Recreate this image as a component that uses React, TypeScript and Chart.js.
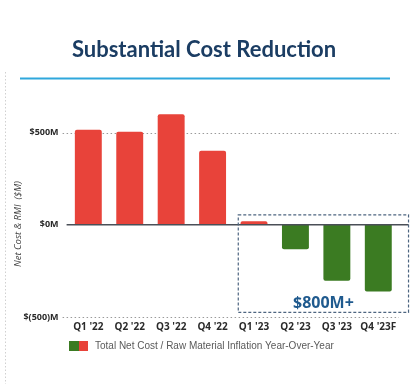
import React, { useEffect, useRef } from "react";
import { Chart, registerables } from "chart.js";

Chart.register(...registerables);

const categories = ["Q1 '22", "Q2 '22", "Q3 '22", "Q4 '22", "Q1 '23", "Q2 '23", "Q3 '23", "Q4 '23F"];
const values = [516, 505, 600, 402, 20, -132, -304, -362];
const yTicks = [-500, 0, 500];
const seriesLabel = "Total Net Cost / Raw Material Inflation Year-Over-Year";
const titleText = "Substantial Cost Reduction";
const calloutText = "$800M+";
const yTitle = "Net Cost & RMI  ($M)";

const RED = "#e8433a";
const GREEN = "#3b7b22";
const NAVY = "#1b3d63";

function fmt(v: number) {
  if (v < 0) return "$(" + Math.abs(v) + ")M";
  return "$" + v + "M";
}

const decorPlugin = {
  id: "decor",
  beforeDatasetsDraw(chart: any) {
    const ctx = chart.ctx;
    const y = chart.scales.y;
    const area = chart.chartArea;
    ctx.save();
    ctx.strokeStyle = "#9a9a9a";
    ctx.lineWidth = 1;
    ctx.setLineDash([1.5, 2.5]);
    for (const v of yTicks) {
      if (v === 0) continue;
      const py = Math.round(y.getPixelForValue(v)) + 0.5;
      ctx.beginPath();
      ctx.moveTo(area.left - 5, py);
      ctx.lineTo(area.right, py);
      ctx.stroke();
    }
    ctx.restore();
  },
  afterDatasetsDraw(chart: any) {
    const ctx = chart.ctx;
    const y = chart.scales.y;
    const x = chart.scales.x;
    const area = chart.chartArea;
    const step = x.getPixelForValue(1) - x.getPixelForValue(0);
    const rightEdge = x.getPixelForValue(categories.length - 1) + 0.73 * step;
    ctx.save();
    const z = y.getPixelForValue(0);
    ctx.strokeStyle = "#4a4f57";
    ctx.lineWidth = 1.5;
    ctx.beginPath();
    ctx.moveTo(area.left - 1, z);
    ctx.lineTo(rightEdge, z);
    ctx.stroke();

    const bl = x.getPixelForValue(4) - 0.38 * step;
    const bt = y.getPixelForValue(54);
    const bb = y.getPixelForValue(-475);
    ctx.strokeStyle = "#4d6580";
    ctx.lineWidth = 1.2;
    ctx.setLineDash([3, 2]);
    ctx.strokeRect(bl, bt, rightEdge - bl, bb - bt);
    ctx.setLineDash([]);
    ctx.fillStyle = "#1f5a8e";
    ctx.font = "bold 16px 'Open Sans'";
    ctx.textAlign = "center";
    ctx.textBaseline = "middle";
    ctx.fillText(calloutText, (bl + rightEdge) / 2, bb - 9);

    ctx.fillStyle = "#444";
    ctx.font = "italic 9.5px 'Open Sans'";
    ctx.translate(18, 224);
    ctx.rotate(-Math.PI / 2);
    ctx.fillText(yTitle, 0, 0);
    ctx.restore();
  },
  afterDraw(chart: any) {
    const ctx = chart.ctx;
    ctx.save();
    ctx.strokeStyle = "#d0d0d0";
    ctx.lineWidth = 1;
    ctx.setLineDash([1.5, 2]);
    ctx.beginPath();
    ctx.moveTo(5.5, 72);
    ctx.lineTo(5.5, 384);
    ctx.stroke();
    ctx.setLineDash([]);
    ctx.fillStyle = NAVY;
    ctx.font = "bold 22px Lato";
    ctx.textAlign = "center";
    ctx.textBaseline = "middle";
    ctx.fillText(titleText, 204, 50);
    ctx.strokeStyle = "#2fa7dc";
    ctx.lineWidth = 2.2;
    ctx.beginPath();
    ctx.moveTo(20, 78.5);
    ctx.lineTo(390, 78.5);
    ctx.stroke();
    const lx = 69, ly = 341;
    ctx.fillStyle = GREEN;
    ctx.fillRect(lx, ly, 10, 10);
    ctx.fillStyle = RED;
    ctx.fillRect(lx + 10, ly, 9, 10);
    ctx.fillStyle = "#5a5a5a";
    ctx.font = "10px 'Liberation Sans', Arial, sans-serif";
    ctx.textAlign = "left";
    ctx.textBaseline = "middle";
    ctx.fillText(seriesLabel, 95, ly + 5);
    ctx.restore();
  },
};

export default function App() {
  const ref = useRef<HTMLCanvasElement | null>(null);
  useEffect(() => {
    if (!ref.current) return;
    const chart = new Chart(ref.current, {
      type: "bar",
      data: {
        labels: categories,
        datasets: [
          {
            label: seriesLabel,
            data: values,
            backgroundColor: values.map((v) => (v >= 0 ? RED : GREEN)),
            borderRadius: 2,
            borderSkipped: "start",
            barPercentage: 0.65,
            categoryPercentage: 1,
          },
        ],
      },
      options: {
        responsive: false,
        animation: false,
        layout: { padding: { top: 105, right: 17, bottom: 47, left: 0 } },
        plugins: { legend: { display: false }, tooltip: { enabled: false }, title: { display: false } },
        scales: {
          x: {
            grid: { display: false, drawTicks: false },
            border: { display: false },
            ticks: {
              padding: 4,
              color: "#2a2a2a",
              font: { family: "'Open Sans'", weight: "bold", size: 10 },
              maxRotation: 0,
              autoSkip: false,
            },
            afterFit: (s: any) => {
              s.height = 20;
            },
          },
          y: {
            min: -500,
            max: 650,
            grid: { display: false, drawTicks: false },
            border: { display: false },
            afterBuildTicks: (s: any) => {
              s.ticks = yTicks.map((v) => ({ value: v }));
            },
            afterFit: (s: any) => {
              s.width = 67.6;
            },
            ticks: {
              padding: 9,
              color: "#2a2a2a",
              font: { family: "'Open Sans'", weight: "bold", size: 9 },
              callback: (v: any) => fmt(Number(v)),
            },
            title: { display: false },
          },
        },
      },
      plugins: [decorPlugin],
    });
    return () => chart.destroy();
  }, []);
  return (
    <div style={{ position: "fixed", left: 0, top: 0, width: 416, height: 384, background: "#fff" }}>
      <canvas ref={ref} width={416} height={384} style={{ display: "block" }} />
    </div>
  );
}
